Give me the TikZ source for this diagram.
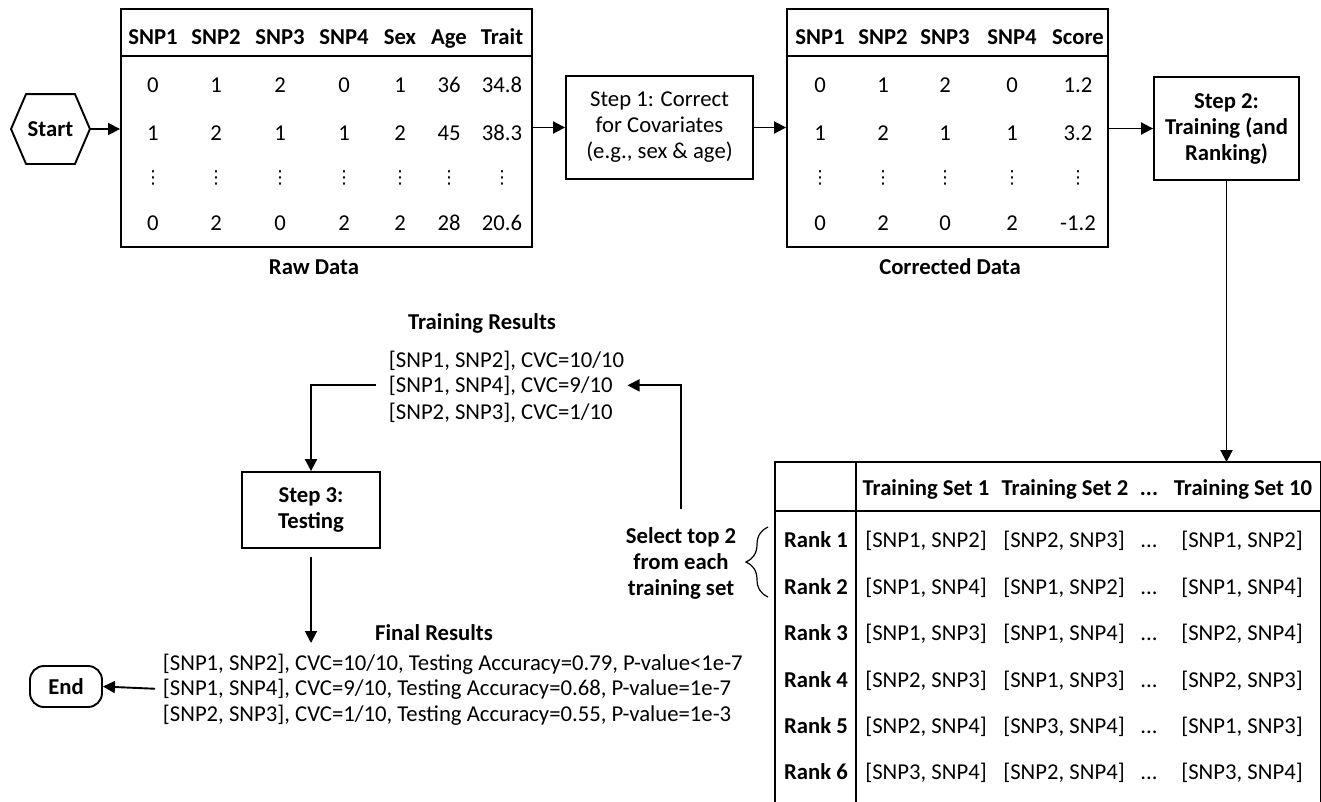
\documentclass[tikz,border=0pt]{standalone}
\usepackage{fontspec}
\setmainfont{Carlito}
\newfontfamily\dejavu{DejaVu Sans}
\usetikzlibrary{arrows.meta,decorations.pathreplacing}
\begin{document}
\begin{tikzpicture}[x=1pt,y=-1pt,line width=1.9pt,
  every node/.style={inner sep=0pt,font=\fontsize{22.7}{26}\selectfont},
  bf/.style={font=\fontsize{22.7}{26}\selectfont\bfseries},
  box/.style={draw,align=center},
  cell/.style={anchor=base},
  vd/.style={font=\fontsize{18}{20}\selectfont\dejavu},
  arr/.style={-{Triangle[length=12pt,width=12pt]}}]
\useasboundingbox (0,0) rectangle (1321,801);

% Start hexagon
\node[bf,minimum width=77pt,minimum height=68pt] (start) at (50.5,129) {Start};
\draw (start.west) -- ([xshift=15pt]start.north west) -- ([xshift=-15pt]start.north east)
  -- (start.east) -- ([xshift=-15pt]start.south east) -- ([xshift=15pt]start.south west) -- cycle;

% Raw data table
\node[draw,minimum width=411pt,minimum height=238pt] (raw) at (326.5,128) {};
\draw ([yshift=-48pt]raw.north west) -- ([yshift=-48pt]raw.north east);
\foreach \x/\h/\a/\b/\c [count=\i] in {153/SNP1/0/1/0,216/SNP2/1/2/2,280/SNP3/2/1/0,344/SNP4/0/1/2,400/Sex/1/2/2,449/Age/36/45/28,502/Trait/34.8/38.3/20.6}{
  \node[bf,cell] (rh\i) at (\x,44) {\h};
  \node[cell] (ra\i) at (\x,92) {\a};
  \node[cell] (rb\i) at (\x,140) {\b};
  \node[vd] (rv\i) at (\x,178) {⋮};
  \node[cell] (rc\i) at (\x,230) {\c};
}
\node[bf,cell] (rawlab) at (314,274) {Raw Data};

% Step 1
\node[box,minimum width=187pt,minimum height=103pt] (step1) at (659.5,127.5) {Step 1: Correct\\for Covariates\\(e.g., sex \& age)};

% Corrected data table
\node[draw,minimum width=321pt,minimum height=238pt] (corr) at (947.5,128) {};
\draw ([yshift=-48pt]corr.north west) -- ([yshift=-48pt]corr.north east);
\foreach \x/\h/\a/\b/\c [count=\i] in {820/SNP1/0/1/0,883/SNP2/1/2/2,945/SNP3/2/1/0,1012/SNP4/0/1/2,1078/Score/1.2/3.2/-1.2}{
  \node[bf,cell] (ch\i) at (\x,44) {\h};
  \node[cell] (ca\i) at (\x,92) {\a};
  \node[cell] (cb\i) at (\x,140) {\b};
  \node[vd] (cv\i) at (\x,178) {⋮};
  \node[cell] (cc\i) at (\x,230) {\c};
}
\node[bf,cell] (corrlab) at (950,274) {Corrected Data};

% Step 2
\node[box,bf,minimum width=145pt,minimum height=103pt] (step2) at (1226.5,128.5) {Step 2:\\Training (and\\Ranking)};

% Ranking table
\node[minimum width=544pt,minimum height=338pt] (ranktab) at (1048,632) {};
\draw (ranktab.south west) -- (ranktab.north west) -- (ranktab.north east) -- (ranktab.south east);
\draw ([yshift=-49pt]ranktab.north west) -- ([yshift=-49pt]ranktab.north east);
\draw ([xshift=81pt]ranktab.north west) -- ([xshift=81pt]ranktab.south west);
\node[bf,cell] (th1) at (926,495) {Training Set 1};
\node[bf,cell] (th2) at (1065,495) {Training Set 2};
\node[bf,cell] (th3) at (1149,495) {...};
\node[bf,cell] (th4) at (1243,495) {Training Set 10};
\foreach \yy/\a/\b/\c [count=\i] in {
  547/{[SNP1, SNP2]}/{[SNP2, SNP3]}/{[SNP1, SNP2]},
  594/{[SNP1, SNP4]}/{[SNP1, SNP2]}/{[SNP1, SNP4]},
  640/{[SNP1, SNP3]}/{[SNP1, SNP4]}/{[SNP2, SNP4]},
  687/{[SNP2, SNP3]}/{[SNP1, SNP3]}/{[SNP2, SNP3]},
  733/{[SNP2, SNP4]}/{[SNP3, SNP4]}/{[SNP1, SNP3]},
  779/{[SNP3, SNP4]}/{[SNP2, SNP4]}/{[SNP3, SNP4]}}{
  \node[bf,cell] (rk\i) at (816,\yy) {Rank \i};
  \node[cell] (t1r\i) at (926,\yy) {\a};
  \node[cell] (t2r\i) at (1064,\yy) {\b};
  \node[cell] (tdr\i) at (1149,\yy) {...};
  \node[cell] (t10r\i) at (1242,\yy) {\c};
}

% Brace and selection label
\draw[line width=1.2pt,decorate,decoration={brace,amplitude=22pt}] (768,597) -- (768,527);
\node[bf,align=center] (sel) at (681,563) {Select top 2\\from each\\training set};

% Training results
\node[bf,cell] (trlab) at (482,329) {Training Results};
\node[anchor=base west] (tr1) at (388,367) {[SNP1, SNP2], CVC=10/10};
\node[anchor=base west] (tr2) at (388,392) {[SNP1, SNP4], CVC=9/10};
\node[anchor=base west] (tr3) at (388,419) {[SNP2, SNP3], CVC=1/10};

% Step 3
\node[box,bf,minimum width=138pt,minimum height=76pt] (step3) at (311,510) {Step 3:\\Testing};

% Final results
\node[bf,cell] (frlab) at (434,640) {Final Results};
\node[anchor=base west] (fr1) at (162,670) {[SNP1, SNP2], CVC=10/10, Testing Accuracy=0.79, P-value<1e-7};
\node[anchor=base west] (fr2) at (162,695) {[SNP1, SNP4], CVC=9/10, Testing Accuracy=0.68, P-value=1e-7};
\node[anchor=base west] (fr3) at (162,721) {[SNP2, SNP3], CVC=1/10, Testing Accuracy=0.55, P-value=1e-3};
\coordinate (fin) at (311,643);

% End
\node[draw,bf,rounded corners=14pt,minimum width=72pt,minimum height=41pt] (end) at (66,686.5) {End};

% Connectors
\draw[arr] (start.east) -- (raw.west |- start.east);
\draw[arr] (raw.east |- step1.west) -- (step1.west);
\draw[arr] (step1.east) -- (corr.west |- step1.east);
\draw[arr] (corr.east |- step2.west) -- (step2.west);
\draw[arr] (step2.south) -- (step2.south |- ranktab.north);
\draw[arr] ([yshift=17pt]sel.north) |- ([xshift=14pt]tr2.east);
\draw[arr] ([xshift=-12pt]tr2.west) -| (step3.north);
\draw[arr] ([yshift=-8pt]step3.south) -- (fin);
\draw[arr] ([xshift=-7pt]fr2.west) -- (end.east);
\end{tikzpicture}
\end{document}
